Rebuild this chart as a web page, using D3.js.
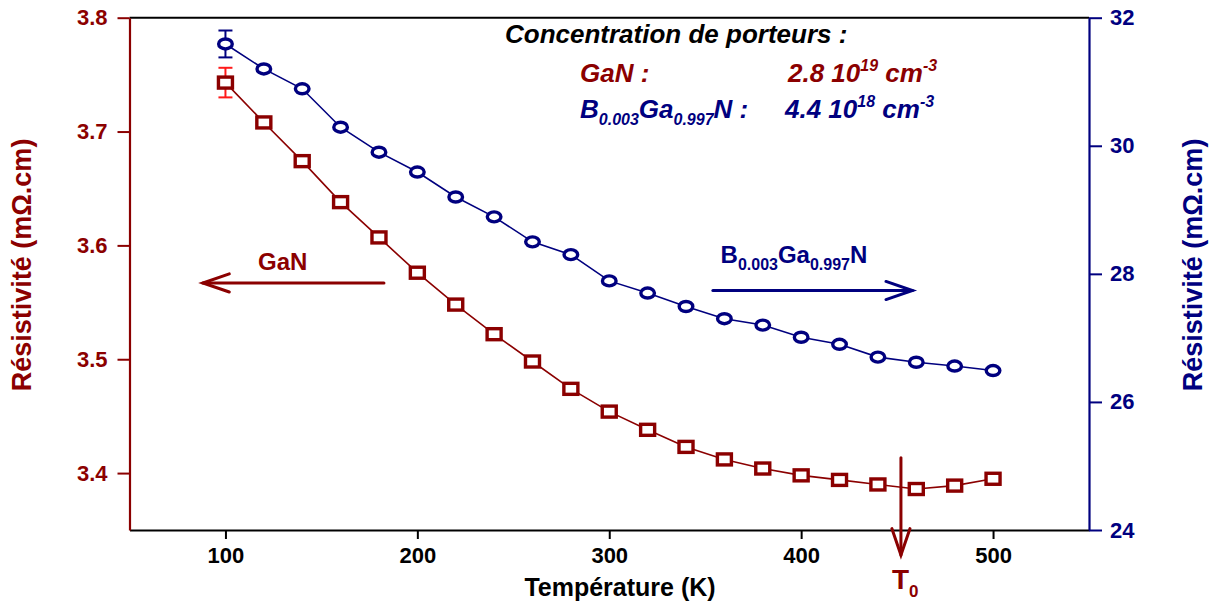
<!DOCTYPE html>
<html><head><meta charset="utf-8">
<script src="https://cdn.jsdelivr.net/npm/d3@7"></script>
<style>
html,body{margin:0;padding:0;background:#fff;}
svg{display:block;font-family:"Liberation Sans",Arial,sans-serif;}
</style></head>
<body>
<svg id="c" width="1211" height="607"></svg>
<script>
// ---- data ----
const temperatures = [100,120,140,160,180,200,220,240,260,280,300,320,340,360,380,400,420,440,460,480,500];
const ganResistivity = [3.743,3.708,3.674,3.638,3.607,3.576,3.548,3.522,3.498,3.474,3.454,3.438,3.423,3.412,3.404,3.398,3.394,3.390,3.386,3.389,3.395];
const bganResistivity = [31.59,31.20,30.89,30.29,29.90,29.59,29.20,28.89,28.50,28.30,27.89,27.70,27.49,27.30,27.20,27.01,26.90,26.70,26.62,26.56,26.49];
const ganError = {T:100, err:0.013};
const bganError = {T:100, err:0.21};
const xTicks = [100,200,300,400,500];
const leftTicks = [3.4,3.5,3.6,3.7,3.8];
const rightTicks = [24,26,28,30,32];
const T0 = 452;

const RED = "#8b0000", NAVY = "#00007f", BRIGHT = "#ff1a1a";
const svg = d3.select("#c");
const L = 129.5, R = 1089, TOP = 17.7, BOT = 530;
const x = d3.scaleLinear().domain([50,550]).range([L,R]);
const yL = d3.scaleLinear().domain([3.35,3.8]).range([BOT,TOP]);
const yR = d3.scaleLinear().domain([24,32]).range([BOT,TOP]);

// top frame
svg.append("line").attr("x1",L).attr("x2",R).attr("y1",TOP).attr("y2",TOP).attr("stroke","#000").attr("stroke-width",2);

// axes
const fmtAxis = (g,color,size)=>{
  g.selectAll("path.domain").attr("stroke",color).attr("stroke-width",2.2);
  g.selectAll(".tick line").attr("stroke",color).attr("stroke-width",2);
  g.selectAll(".tick text").attr("fill",color).attr("font-size",size).attr("font-weight","bold").attr("font-family","'Liberation Sans',Arial,sans-serif");
};
const gx = svg.append("g").attr("transform",`translate(0,${BOT})`)
  .call(d3.axisBottom(x).tickValues(xTicks).tickSize(9).tickSizeOuter(0).tickPadding(8).tickFormat(d3.format("d")));
fmtAxis(gx,"#000",22);
const gl = svg.append("g").attr("transform",`translate(${L},0)`)
  .call(d3.axisLeft(yL).tickValues(leftTicks).tickSize(12).tickSizeOuter(0).tickPadding(10).tickFormat(d3.format(".1f")));
fmtAxis(gl,RED,22);
const gr = svg.append("g").attr("transform",`translate(${R},0)`)
  .call(d3.axisRight(yR).tickValues(rightTicks).tickSize(13).tickSizeOuter(0).tickPadding(8).tickFormat(d3.format("d")));
fmtAxis(gr,NAVY,22);

// axis titles
svg.append("text").attr("x",620).attr("y",596).attr("text-anchor","middle")
  .attr("font-size",25).attr("font-weight","bold").attr("fill","#000").text("Température (K)");
svg.append("text").attr("transform","translate(31,265) rotate(-90)").attr("text-anchor","middle")
  .attr("font-size",27).attr("font-weight","bold").attr("fill",RED).text("Résistivité (mΩ.cm)");
svg.append("text").attr("transform","translate(1202,265) rotate(-90)").attr("text-anchor","middle")
  .attr("font-size",27).attr("font-weight","bold").attr("fill",NAVY).text("Résistivité (mΩ.cm)");

// series lines
const gan = temperatures.map((t,i)=>({t,v:ganResistivity[i]}));
const bgan = temperatures.map((t,i)=>({t,v:bganResistivity[i]}));
svg.append("path").datum(gan).attr("fill","none").attr("stroke",RED).attr("stroke-width",1.6)
  .attr("d",d3.line().x(d=>x(d.t)).y(d=>yL(d.v)));
svg.append("path").datum(bgan).attr("fill","none").attr("stroke",NAVY).attr("stroke-width",1.6)
  .attr("d",d3.line().x(d=>x(d.t)).y(d=>yR(d.v)));

// error bars
function errBar(cx, yv, e, scale, color){
  const g = svg.append("g").attr("stroke",color).attr("stroke-width",2);
  g.append("line").attr("x1",x(cx)).attr("x2",x(cx)).attr("y1",scale(yv+e)).attr("y2",scale(yv-e));
  [yv+e,yv-e].forEach(v=>g.append("line").attr("x1",x(cx)-7).attr("x2",x(cx)+7).attr("y1",scale(v)).attr("y2",scale(v)));
}
errBar(ganError.T, ganResistivity[0], ganError.err, yL, BRIGHT);
errBar(bganError.T, bganResistivity[0], bganError.err, yR, NAVY);

// markers
svg.append("g").selectAll("rect").data(gan).join("rect")
  .attr("x",d=>x(d.t)-7).attr("y",d=>yL(d.v)-5.5).attr("width",14).attr("height",11)
  .attr("fill","#fff").attr("stroke",RED).attr("stroke-width",3.4);
svg.append("g").selectAll("ellipse").data(bgan).join("ellipse")
  .attr("cx",d=>x(d.t)).attr("cy",d=>yR(d.v)).attr("rx",6.8).attr("ry",5)
  .attr("fill","#fff").attr("stroke",NAVY).attr("stroke-width",3.4);

// annotation arrows
function arrow(x1,y1,x2,y2,color){
  const ang = Math.atan2(y2-y1,x2-x1), len=28, hw=0.33;
  const g = svg.append("g").attr("stroke",color).attr("stroke-width",3).attr("fill","none").attr("stroke-linecap","round");
  g.append("line").attr("x1",x1).attr("y1",y1).attr("x2",x2).attr("y2",y2);
  g.append("path").attr("d",`M${x2-len*Math.cos(ang-hw)},${y2-len*Math.sin(ang-hw)}L${x2},${y2}L${x2-len*Math.cos(ang+hw)},${y2-len*Math.sin(ang+hw)}`);
}
arrow(x(182.6),yL(3.567),x(88.2),yL(3.567),RED);
arrow(x(354),yR(27.74),x(458),yR(27.74),NAVY);
arrow(x(T0),yL(3.4134),x(T0),yL(3.328),RED);

svg.append("text").attr("x",x(117)).attr("y",270).attr("font-size",24).attr("font-weight","bold").attr("fill",RED).text("GaN");
const bl = svg.append("text").attr("x",x(358)).attr("y",263).attr("font-size",24).attr("font-weight","bold").attr("fill",NAVY);
bl.append("tspan").text("B");
bl.append("tspan").attr("font-size",16).attr("dy",7).text("0.003");
bl.append("tspan").attr("dy",-7).text("Ga");
bl.append("tspan").attr("font-size",16).attr("dy",7).text("0.997");
bl.append("tspan").attr("dy",-7).text("N");

const t0 = svg.append("text").attr("x",x(T0)-9).attr("y",589).attr("font-size",28).attr("fill",RED).attr("font-weight","bold");
t0.append("tspan").text("T");
t0.append("tspan").attr("font-size",17).attr("dy",8).text("0");

// legend block
const lg = svg.append("g").attr("font-weight","bold").attr("font-style","italic");
lg.append("text").attr("x",505).attr("y",43).attr("font-size",26).attr("fill","#000").text("Concentration de porteurs :");
lg.append("text").attr("x",580).attr("y",82).attr("font-size",26).attr("fill",RED).text("GaN :");
const g1 = lg.append("text").attr("x",788).attr("y",82).attr("font-size",26).attr("fill",RED);
g1.append("tspan").text("2.8 10");
g1.append("tspan").attr("font-size",16).attr("dy",-11).text("19");
g1.append("tspan").attr("dy",11).text(" cm");
g1.append("tspan").attr("font-size",16).attr("dy",-11).text("-3");
const b1 = lg.append("text").attr("x",580).attr("y",118).attr("font-size",26).attr("fill",NAVY);
b1.append("tspan").text("B");
b1.append("tspan").attr("font-size",16).attr("dy",7).text("0.003");
b1.append("tspan").attr("dy",-7).text("Ga");
b1.append("tspan").attr("font-size",16).attr("dy",7).text("0.997");
b1.append("tspan").attr("dy",-7).text("N :");
const b2 = lg.append("text").attr("x",785).attr("y",118).attr("font-size",26).attr("fill",NAVY);
b2.append("tspan").text("4.4 10");
b2.append("tspan").attr("font-size",16).attr("dy",-11).text("18");
b2.append("tspan").attr("dy",11).text(" cm");
b2.append("tspan").attr("font-size",16).attr("dy",-11).text("-3");
</script>
</body></html>
